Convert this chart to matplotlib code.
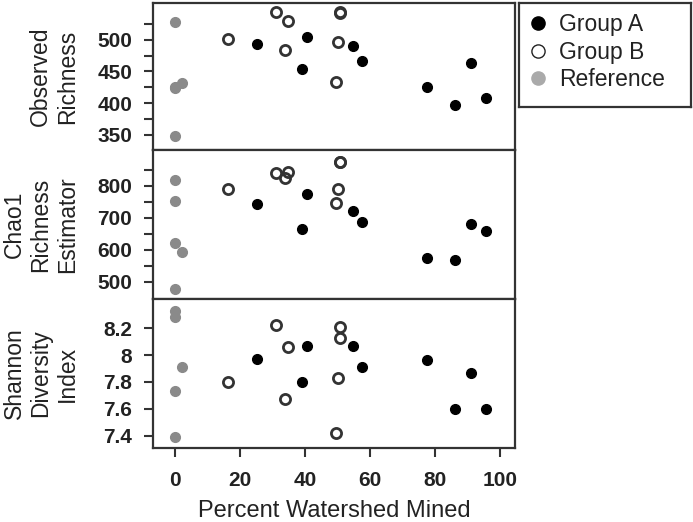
import numpy as np
import matplotlib.pyplot as plt
from matplotlib.lines import Line2D
import matplotlib as mpl

mpl.rcParams['font.family'] = ['Liberation Sans', 'DejaVu Sans']

# data
ref_x = [0, 0, 0, 0, 2.2]
ref_obs = [528, 426, 424, 348, 432]
ref_chao = [819, 752, 622, 476, 592]
ref_shan = [8.33, 8.28, 7.73, 7.39, 7.91]

a_x = [25.1, 39.1, 40.5, 54.9, 57.4, 77.4, 86.2, 91.2, 95.7]
a_obs = [494, 454, 504, 490, 467, 426, 397, 464, 408]
a_chao = [742, 664, 774, 722, 688, 573, 568, 680, 658]
a_shan = [7.97, 7.80, 8.07, 8.07, 7.91, 7.96, 7.60, 7.87, 7.60]

b_x = [16.4, 30.9, 33.7, 34.6, 49.4, 50.0, 50.6, 50.6]
b_obs = [501, 544, 484, 530, 434, 497, 544, 542]
b_chao = [790, 839, 823, 842, 746, 789, 876, 874]
b_shan = [7.80, 8.22, 7.67, 8.06, 7.42, 7.83, 8.21, 8.13]

ylabels = ['Observed\nRichness', 'Chao1\nRichness\nEstimator', 'Shannon\nDiversity\nIndex']
ylims = [(326, 558), (446, 912), (7.309, 8.417)]
yticks = [np.arange(350, 526, 25), np.arange(500, 851, 50), np.arange(7.4, 8.21, 0.2)]
ylab_step = [50, 100, 0.2]
xticks = [0, 20, 40, 60, 80, 100]

spine_c = '#333333'
txt_c = '#222222'

fig = plt.figure(figsize=(6.93, 5.22), dpi=100)
L, W = 153/693, 362/693
tops = [3, 150, 299, 448]
axs = []
for i in range(3):
    b = (522 - tops[i+1]) / 522
    h = (tops[i+1] - tops[i]) / 522
    axs.append(fig.add_axes([L, b, W, h]))

series = [(ref_obs, a_obs, b_obs), (ref_chao, a_chao, b_chao), (ref_shan, a_shan, b_shan)]
for i, ax in enumerate(axs):
    r, a, bb = series[i]
    ax.plot(ref_x, r, 'o', color='#8a8a8a', ms=7, mec='#8a8a8a', zorder=3)
    ax.plot(a_x, a, 'o', color='black', ms=7, zorder=3)
    ax.plot(b_x, bb, 'o', mfc='none', mec='#333333', ms=7.3, mew=2, zorder=3)
    ax.set_xlim(-6.8, 104.6)
    ax.set_ylim(*ylims[i])
    ax.set_yticks(yticks[i])
    labs = []
    for v in yticks[i]:
        if i == 2:
            labs.append(('%.1f' % v).rstrip('0').rstrip('.'))
        elif v % ylab_step[i] == 0:
            labs.append('%d' % v)
        else:
            labs.append('')
    ax.set_yticklabels(labs, fontweight='bold')
    ax.tick_params(axis='y', direction='out', length=6.5, width=1.5, color=spine_c,
                   labelsize=15, labelcolor=txt_c, pad=8.5)
    if i < 2:
        ax.set_xticks([])
    else:
        ax.set_xticks(xticks)
        ax.set_xticklabels([str(t) for t in xticks], fontweight='bold')
        ax.tick_params(axis='x', direction='out', length=6.5, width=1.5, color=spine_c,
                       labelsize=15, labelcolor=txt_c, pad=10)
        ax.set_xlabel('Percent Watershed Mined', fontsize=17, color=txt_c, labelpad=7)
    for s in ax.spines.values():
        s.set_linewidth(1.6)
        s.set_color(spine_c)
    ax.set_ylabel(ylabels[i], fontsize=16.5, color=txt_c, linespacing=1.2)
    ax.yaxis.set_label_coords(-0.205, 0.5)

# legend box
lax = fig.add_axes([519/693, (522-107)/522, 172/693, 104/522])
lax.set_xticks([])
lax.set_yticks([])
for s in lax.spines.values():
    s.set_linewidth(1.6)
    s.set_color(spine_c)
handles = [Line2D([], [], ls='none', marker='o', color='black', ms=9.5),
           Line2D([], [], ls='none', marker='o', mfc='none', mec='#222222', ms=9.5, mew=1),
           Line2D([], [], ls='none', marker='o', color='#aaaaaa', ms=9.5)]
lax.legend(handles, ['Group A', 'Group B', 'Reference'], loc='upper left', frameon=False,
           fontsize=16.5, handlelength=0.8, handletextpad=0.5, labelspacing=0.2,
           borderaxespad=0.05, borderpad=0.4, labelcolor=txt_c)

fig.savefig('out.png', dpi=100)
